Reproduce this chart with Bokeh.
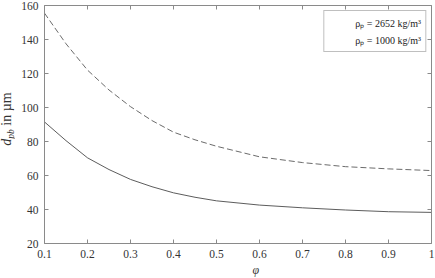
from bokeh.plotting import figure
from bokeh.layouts import row
from bokeh.models import (LinearAxis, FixedTicker, CustomJSTickFormatter, Range1d,
                          Legend, LegendItem, Title, Div)
from bokeh.embed import file_html
from bokeh.resources import INLINE

# ---- data ----
phi = [0.1, 0.15, 0.2, 0.25, 0.3, 0.35, 0.4, 0.45, 0.5, 0.6, 0.7, 0.8, 0.9, 1.0]
d_pb_2652 = [91.5, 80.5, 70.4, 63.5, 57.7, 53.4, 49.8, 47.2, 45.1, 42.6, 41.0, 39.7, 38.7, 38.3]
d_pb_1000 = [155.5, 137.5, 122.0, 110.3, 100.5, 92.3, 85.5, 81.0, 77.2, 71.0, 67.6, 65.2, 63.9, 62.9]
x_ticks = [0.1, 0.2, 0.3, 0.4, 0.5, 0.6, 0.7, 0.8, 0.9, 1.0]
y_ticks = [20, 40, 60, 80, 100, 120, 140, 160]
series_labels = ["ρₚ = 2652 kg/m³", "ρₚ = 1000 kg/m³"]
x_label = "φ"

FONT = "Liberation Serif"
AX = "#8a8a8a"
TXT = "#333333"

DIV_W = 14
W, H = 435 - DIV_W, 278

p = figure(width=W, height=H, output_backend="svg", toolbar_location=None,
           x_range=Range1d(0.1, 1.0), y_range=Range1d(20, 160),
           min_border_left=44 - DIV_W, min_border_right=4, min_border_top=5,
           min_border_bottom=35, x_axis_location=None, y_axis_location=None)
p.grid.visible = False
p.outline_line_color = None
p.background_fill_color = "white"
p.border_fill_color = "white"

fmt = CustomJSTickFormatter(code="return tick.toFixed(1).replace(/\\.0$/, '');")
fmt_y = CustomJSTickFormatter(code="return tick.toFixed(0);")
blank = CustomJSTickFormatter(code="return '';")


def mk_axis(ticks, formatter, labels=True):
    return LinearAxis(ticker=FixedTicker(ticks=ticks), formatter=formatter,
                      axis_line_color=AX, major_tick_line_color=AX,
                      major_tick_in=4, major_tick_out=0,
                      minor_tick_line_color=None,
                      major_label_text_font=FONT, major_label_text_font_size="11.5px",
                      major_label_text_color=TXT,
                      major_label_standoff=6 if labels else 0)


p.add_layout(mk_axis(x_ticks, fmt), "below")
p.add_layout(mk_axis(y_ticks, fmt_y), "left")
p.add_layout(mk_axis(x_ticks, blank, False), "above")
p.add_layout(mk_axis(y_ticks, blank, False), "right")

p.add_layout(Title(text=x_label, align="left", offset=208, standoff=0,
                   text_font=FONT, text_font_style="italic", text_font_size="12px",
                   text_color=TXT), "below")

p.line(phi, d_pb_2652, line_color="#4a4a4a", line_width=0.9)
p.line(phi, d_pb_1000, line_color="#5a5a5a", line_width=0.9, line_dash="6 3")

l1 = p.line(x=[], y=[], line_color="#c8c8c8", line_width=1.5)
l2 = p.line(x=[], y=[], line_color="#c8c8c8", line_width=1.5, line_dash="6 3")
legend = Legend(items=[LegendItem(label=series_labels[0], renderers=[l1]),
                       LegendItem(label=series_labels[1], renderers=[l2])],
                location="top_right", border_line_color="#808080", border_line_width=1,
                background_fill_color="white", background_fill_alpha=1,
                label_text_font=FONT, label_text_font_size="10px",
                label_text_color="#222222",
                glyph_width=24, glyph_height=15, label_height=15, spacing=2,
                padding=4, margin=5, label_standoff=3)
p.add_layout(legend)

y_label_html = (
    '<div style="position:relative;width:%dpx;height:%dpx;">'
    '<div style="position:absolute;left:8px;top:119px;'
    'transform:translate(-50%%,-50%%) rotate(-90deg);white-space:nowrap;'
    "font-family:'Liberation Serif',serif;font-size:14px;color:%s;line-height:1;\">"
    '<i>d</i><sub style="font-size:9.5px;vertical-align:-3px;"><i>pb</i></sub> in µm'
    '</div></div>'
) % (DIV_W, H, TXT)
div = Div(text=y_label_html, width=DIV_W, height=H, margin=0)

layout = row(div, p)
open("out.html", "w").write(file_html(layout, INLINE))
